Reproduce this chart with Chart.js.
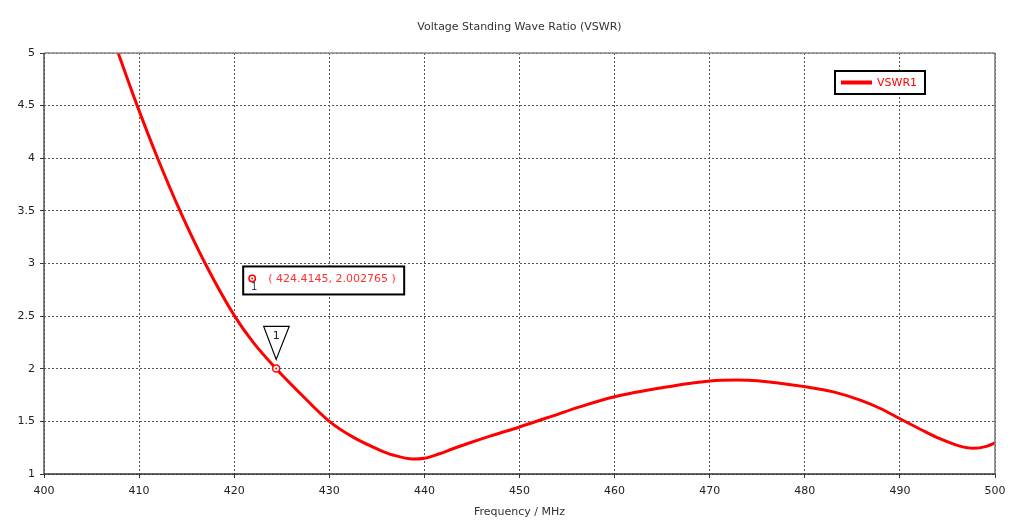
<!DOCTYPE html>
<html>
<head>
<meta charset="utf-8">
<script src="https://cdn.jsdelivr.net/npm/chart.js@4"></script>
<style>
  html, body { margin: 0; padding: 0; background: #fff; }
  #wrap { width: 1024px; height: 525px; }
</style>
</head>
<body>
<div id="wrap"><canvas id="c" width="1024" height="525"></canvas></div>
<script>
// ---- data ----
const freqMHz = [407.8, 409.8, 411.95, 414.3, 416.95, 420.05, 422, 424.41, 427, 430, 432.5, 435.3, 436.7, 438.8, 440, 441.5, 443, 444.4, 446.9, 450, 453.6, 456.4, 460, 465, 470, 472.8, 475, 480, 483, 485.9, 488, 490, 492.3, 494.2, 496.3, 497.7, 499.1, 500];
const vswr1   = [5.0,   4.5,   4.0,    3.5,   3.0,    2.5,    2.25, 2.0,    1.76, 1.5, 1.35,  1.228, 1.18,  1.142, 1.150, 1.19, 1.24, 1.285, 1.36,  1.447, 1.555, 1.64,  1.734, 1.82, 1.884, 1.893, 1.887, 1.83, 1.78, 1.70, 1.62, 1.525, 1.418, 1.335, 1.265, 1.244, 1.262, 1.295];
const seriesName = 'VSWR1';
const markerFreq = [424.4145];
const markerVswr = [2.002765];
const markerLabel = ['1'];
const titleText = 'Voltage Standing Wave Ratio (VSWR)';
const xAxisTitle = 'Frequency / MHz';
const xRange = [400, 500, 10];
const yRange = [1, 5, 0.5];

const FONT = '"DejaVu Sans", sans-serif';
const RED = '#ff0000';

const decor = {
  id: 'decor',
  afterDatasetsDraw(chart) {
    const ctx = chart.ctx;
    const a = chart.chartArea;
    const xs = chart.scales.x, ys = chart.scales.y;
    ctx.save();
    // frame
    ctx.lineWidth = 1.5;
    ctx.strokeStyle = '#888';
    ctx.beginPath(); ctx.moveTo(a.left, a.top); ctx.lineTo(a.right, a.top); ctx.stroke();
    ctx.strokeStyle = '#777';
    ctx.beginPath(); ctx.moveTo(a.right, a.top); ctx.lineTo(a.right, a.bottom); ctx.stroke();
    ctx.strokeStyle = '#555';
    ctx.beginPath(); ctx.moveTo(a.left, a.top); ctx.lineTo(a.left, a.bottom); ctx.stroke();
    ctx.strokeStyle = '#333';
    ctx.beginPath(); ctx.moveTo(a.left, a.bottom); ctx.lineTo(a.right, a.bottom); ctx.stroke();

    // titles
    ctx.fillStyle = '#333';
    ctx.font = '11px ' + FONT;
    ctx.textAlign = 'center';
    ctx.textBaseline = 'middle';
    ctx.fillText(titleText, (a.left + a.right) / 2, 27);
    ctx.fillText(xAxisTitle, (a.left + a.right) / 2, 512);

    // legend
    const lx = 835, ly = 71, lw = 90, lh = 23;
    ctx.fillStyle = '#fff';
    ctx.fillRect(lx, ly, lw, lh);
    ctx.lineWidth = 2;
    ctx.strokeStyle = '#000';
    ctx.strokeRect(lx, ly, lw, lh);
    ctx.strokeStyle = RED;
    ctx.lineWidth = 4;
    ctx.beginPath(); ctx.moveTo(841, ly + lh / 2); ctx.lineTo(872, ly + lh / 2); ctx.stroke();
    ctx.fillStyle = RED;
    ctx.font = '11px ' + FONT;
    ctx.textAlign = 'left';
    ctx.fillText(seriesName, 877, ly + lh / 2 + 1);

    // marker annotation
    for (let i = 0; i < markerFreq.length; i++) {
      const px = xs.getPixelForValue(markerFreq[i]);
      const py = ys.getPixelForValue(markerVswr[i]);
      ctx.fillStyle = RED;
      ctx.beginPath(); ctx.arc(px, py, 1, 0, Math.PI * 2); ctx.fill();
      // triangle
      ctx.fillStyle = '#fff';
      ctx.strokeStyle = '#000';
      ctx.lineWidth = 1.2;
      ctx.beginPath();
      ctx.moveTo(px - 12.5, py - 42);
      ctx.lineTo(px + 13, py - 42);
      ctx.lineTo(px, py - 9);
      ctx.closePath();
      ctx.fill(); ctx.stroke();
      ctx.fillStyle = '#222';
      ctx.font = '11px ' + FONT;
      ctx.textAlign = 'center';
      ctx.fillText(markerLabel[i], px, py - 32);
      // readout box
      const bx = px - 33, by = py - 102, bw = 161, bh = 28;
      ctx.fillStyle = '#fff';
      ctx.fillRect(bx, by, bw, bh);
      ctx.lineWidth = 2;
      ctx.strokeStyle = '#000';
      ctx.strokeRect(bx, by, bw, bh);
      ctx.strokeStyle = RED;
      ctx.lineWidth = 1.5;
      ctx.beginPath(); ctx.arc(bx + 9, by + 12, 3.2, 0, Math.PI * 2); ctx.stroke();
      ctx.fillStyle = RED;
      ctx.beginPath(); ctx.arc(bx + 9, by + 12, 1, 0, Math.PI * 2); ctx.fill();
      ctx.fillStyle = '#1d3f7a';
      ctx.font = '10px ' + FONT;
      ctx.fillText(markerLabel[i], bx + 11, by + 21);
      ctx.fillStyle = '#ff3030';
      ctx.font = '11px ' + FONT;
      ctx.textAlign = 'left';
      ctx.fillText('( ' + markerFreq[i].toFixed(4) + ', ' + markerVswr[i].toFixed(6) + ' )', bx + 25, by + 13);
    }
    ctx.restore();
  }
};

const lineData = freqMHz.map((f, i) => ({ x: f, y: vswr1[i] }));
const markerData = markerFreq.map((f, i) => ({ x: f, y: markerVswr[i] }));

new Chart(document.getElementById('c'), {
  type: 'line',
  data: {
    datasets: [
      {
        label: 'marker',
        data: markerData,
        showLine: false,
        pointRadius: 3.5,
        pointBorderWidth: 1.5,
        pointBorderColor: RED,
        pointBackgroundColor: '#fff',
        order: 0
      },
      {
        label: seriesName,
        data: lineData,
        borderColor: RED,
        borderWidth: 3,
        pointRadius: 0,
        cubicInterpolationMode: 'monotone',
        fill: false,
        order: 1
      }
    ]
  },
  options: {
    responsive: false,
    animation: false,
    devicePixelRatio: 1,
    layout: { padding: { top: 53, right: 29, bottom: 0, left: 0 } },
    plugins: {
      legend: { display: false },
      title: { display: false },
      tooltip: { enabled: false }
    },
    scales: {
      x: {
        type: 'linear',
        min: xRange[0], max: xRange[1],
        afterFit(s) { s.height = 51; },
        ticks: { stepSize: xRange[2], color: '#222', font: { family: FONT, size: 11 }, padding: 7, maxRotation: 0,
                 callback: (v) => String(v) },
        grid: { color: '#555', lineWidth: 1, tickLength: 4, tickColor: '#333', tickBorderDash: [] },
        border: { display: false, dash: [2, 2] }
      },
      y: {
        type: 'linear',
        min: yRange[0], max: yRange[1],
        afterFit(s) { s.width = 44; },
        ticks: { stepSize: yRange[2], color: '#222', font: { family: FONT, size: 11 }, padding: 5,
                 callback: (v) => String(v) },
        grid: { color: '#555', lineWidth: 1, tickLength: 4, tickColor: '#333', tickBorderDash: [] },
        border: { display: false, dash: [2, 2] }
      }
    }
  },
  plugins: [decor]
});
</script>
</body>
</html>
